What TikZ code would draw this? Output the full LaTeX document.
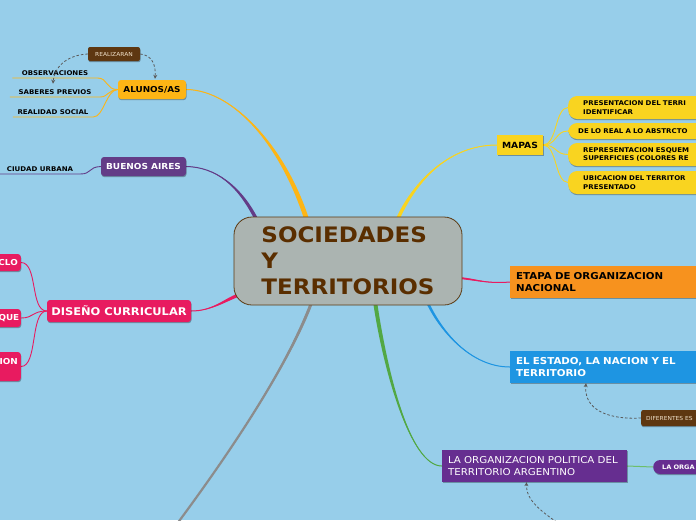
\documentclass[tikz,border=0pt]{standalone}
\usepackage{fontspec}
\setmainfont{DejaVu Sans}[FakeStretch=1.08]
\usetikzlibrary{calc,shadows,arrows.meta}
\pgfdeclarelayer{back}
\pgfdeclarelayer{links}
\pgfsetlayers{back,links,main}
\definecolor{bgblue}{HTML}{97CEEA}
\definecolor{corange}{HTML}{FDB515}
\definecolor{cbrown}{HTML}{5E3711}
\definecolor{cpurple}{HTML}{633C87}
\definecolor{cpink}{HTML}{E81B60}
\definecolor{cyellow}{HTML}{F9D420}
\definecolor{corangeb}{HTML}{F7921E}
\definecolor{cblue}{HTML}{1E95E2}
\definecolor{cviolet}{HTML}{662E90}
\definecolor{cgreen}{HTML}{52A844}
\definecolor{clgreen}{HTML}{6DBE6A}
\definecolor{cgray}{HTML}{8C8C8C}
\definecolor{cfill}{HTML}{ABB4B1}
\definecolor{cbord}{HTML}{5C3A12}
\definecolor{ctext}{HTML}{5A2E00}
\definecolor{clight}{HTML}{F2E3CC}
\definecolor{cdash}{HTML}{5A5A5A}
\newcommand\mmtaper[7][1]{%
  \draw[#2,line width=#1] (#3) .. controls (#4) and (#5) .. (#6);
  \fill[#2] (#3) .. controls (#4) and ($(#5)+(#7)$) .. ($(#6)+(#7)$) -- ($(#6)-(#7)$) .. controls ($(#5)-(#7)$) and (#4) .. (#3);
}
\begin{document}
\begin{tikzpicture}[x=1pt,y=-1pt,
  shade/.style={drop shadow={shadow xshift=0.5pt,shadow yshift=-1.2pt,opacity=0.3,fill=black}},
  cen/.style={draw=cbord,fill=cfill,line width=0.8,rounded corners=18,minimum width=228,minimum height=88,text=ctext,align=left,font=\fontsize{21.3}{26}\selectfont\bfseries},
  box/.style={rounded corners=3,inner sep=2,shade},
  lbl/.style={anchor=south,inner xsep=0,inner ysep=2,font=\fontsize{6.5}{8}\selectfont\bfseries},
  pill/.style={anchor=west,fill=cyellow,rounded corners=9,text width=200,align=left,font=\fontsize{6.5}{8.6}\selectfont\bfseries,shade},
  dasharrow/.style={draw=cdash,line width=0.8,dash pattern=on 2.5pt off 2pt,-{Stealth[length=4,width=4]}},
  sm/.style={font=\fontsize{5.5}{7}\selectfont},
  pinkside/.style={box,fill=cpink,text=white,anchor=east,text width=40,align=right,inner xsep=3,font=\fontsize{8.2}{10}\selectfont\bfseries}
]
\useasboundingbox (0,0) rectangle (696,520);
\clip (0,0) rectangle (696,520);
\begin{pgfonlayer}{back}
\fill[bgblue] (0,0) rectangle (696,520);
\end{pgfonlayer}

% central node
\node[cen] (c) at (348,261) {SOCIEDADES\\Y\\TERRITORIOS};

% left top
\node[box,fill=corange,minimum width=68,minimum height=19,font=\fontsize{8.2}{10}\selectfont\bfseries] (alu) at (152,89.5) {ALUNOS/AS};
\node[box,rounded corners=2,fill=cbrown,text=clight,minimum width=52,minimum height=14,sm] (realiz) at (114,54) {REALIZARAN};
\node[lbl,minimum width=85] (obs) at (55,78) {OBSERVACIONES};
\node[lbl,minimum width=90] (sab) at (55,97) {SABERES PREVIOS};
\node[lbl,minimum width=80] (real) at (53,117) {REALIDAD SOCIAL};

\node[box,fill=cpurple,text=white,minimum width=85,minimum height=19,font=\fontsize{8.3}{10}\selectfont\bfseries] (ba) at (143.5,166.5) {BUENOS AIRES};
\node[lbl,minimum width=80] (ciu) at (40,174) {CIUDAD URBANA};

\node[box,fill=cpink,text=white,minimum width=144,minimum height=22,font=\fontsize{10.6}{13}\selectfont\bfseries] (dis) at (119,311) {DISEÑO CURRICULAR};
\node[pinkside,minimum height=17] (pa) at (21,262.5) {CLO};
\node[pinkside,minimum height=18,inner xsep=1.5] (pb) at (21,318) {QUE};
\node[pinkside,minimum height=29] (pc) at (21,366.5) {ION\\\mbox{}};

% right top
\node[fill=cyellow,minimum width=46,minimum height=20,inner sep=2,shade,font=\fontsize{8.5}{10}\selectfont\bfseries] (map) at (520,145) {MAPAS};
\node[pill,minimum height=23,inner xsep=15] (m1) at (568,107.5) {PRESENTACION DEL TERRI\\IDENTIFICAR};
\node[pill,minimum height=16,inner xsep=10] (m2) at (568,131) {DE LO REAL A LO ABSTRCTO};
\node[pill,minimum height=23,inner xsep=15] (m3) at (568,154.5) {REPRESENTACION ESQUEM\\SUPERFICIES (COLORES RE};
\node[pill,minimum height=23,inner xsep=15] (m4) at (568,182.5) {UBICACION DEL TERRITOR\\PRESENTADO};

% right middle
\node[anchor=west,fill=corangeb,text width=200,inner xsep=6,minimum height=32,align=left,shade,font=\fontsize{9.5}{12}\selectfont\bfseries] (eta) at (510,282) {ETAPA DE ORGANIZACION\\NACIONAL};
\node[anchor=west,fill=cblue,text=white,text width=174,inner xsep=6,minimum height=32,align=left,shade,font=\fontsize{9.5}{12}\selectfont\bfseries] (est) at (510,367) {EL ESTADO, LA NACION Y EL\\TERRITORIO};
\node[anchor=west,box,rounded corners=2,fill=cbrown,text=clight,text width=80,inner xsep=5,minimum height=16,align=left,sm] (dif) at (641,418) {DIFERENTES ES};

% bottom right
\node[fill=cviolet,text=white,text width=173,inner xsep=6,minimum height=32,align=left,shade,font=\fontsize{9.5}{12}\selectfont] (org) at (534.5,466) {LA ORGANIZACION POLITICA DEL\\TERRITORIO ARGENTINO};
\node[anchor=west,fill=cviolet,text=white,rounded corners=7,text width=60,inner xsep=9,minimum height=14,align=left,shade,font=\fontsize{6.1}{8}\selectfont\bfseries] (lo) at (653,467) {LA ORGA};

\coordinate (offg) at (168,536);
\coordinate (offd) at (572,532);

% end points on the central node
\coordinate (eA) at ($(c.north)+(-41,4)$);
\coordinate (eB) at ($(c.north)+(-90,6)$);
\coordinate (eM) at ($(c.north)+(49,4)$);
\coordinate (eE) at ($(c.east)+(-4,17)$);
\coordinate (eD) at ($(c.west)+(5,34)$);
\coordinate (eS) at ($(c.south)+(79,-4)$);
\coordinate (eG) at ($(c.south)+(27,-4)$);
\coordinate (eY) at ($(c.south)+(-36,-4)$);

\begin{pgfonlayer}{links}
\mmtaper{corange}{alu.east}{235,90}{285,150}{eA}{2.5,0}
\mmtaper{cpurple}{ba.east}{215,167}{240,185}{eB}{2,0}
\mmtaper{cyellow}{map.west}{450,145}{415,180}{eM}{2,0}
\mmtaper{cpink}{eta.west}{485,284}{475,279}{eE}{0,1}
\mmtaper{cpink}{dis.east}{212,311}{225,300}{eD}{0.7,1.5}
\mmtaper{cblue}{est.west}{470,367}{440,330}{eS}{1.5,0}
\mmtaper{cgreen}{org.west}{410,466}{385,370}{eG}{2,0}
\mmtaper[2.2]{cgray}{offg}{240,440}{290,360}{eY}{1.6,0}
% small links
\draw[corange,line width=0.9] (alu.west) .. controls (106,90) and (108,78) .. (obs.south east) -- (obs.south west);
\draw[corange,line width=0.9] (alu.west) .. controls (108,90) and (108,97) .. (sab.south east) -- (sab.south west);
\draw[corange,line width=0.9] (alu.west) .. controls (106,90) and (104,117) .. (real.south east) -- (real.south west);
\draw[cpurple,line width=0.9] (ba.west) .. controls (88,167) and (92,174) .. (ciu.south east) -- (ciu.south west);
\draw[cpink,line width=0.9] (dis.west) .. controls (30,311) and (38,262.5) .. (pa.east);
\draw[cpink,line width=0.9] (dis.west) .. controls (32,311) and (34,318) .. (pb.east);
\draw[cpink,line width=0.9] (dis.west) .. controls (30,311) and (38,366.5) .. (pc.east);
\foreach \m in {m1,m2,m3,m4}
  \draw[cyellow,line width=0.9] (map.east) .. controls (557,145) and (555,0|-\m.west) .. (\m.west);
\draw[clgreen,line width=1] (org.east) -- (lo.west);
\end{pgfonlayer}

% dashed arrows
\draw[dasharrow] (realiz.west) .. controls (66,55) and (54,68) .. ($(sab.north)+(-2,-4)$);
\draw[dasharrow] (realiz.east) .. controls (152,55) and (156,65) .. ($(alu.north)+(3,-1)$);
\draw[dasharrow] (dif.west) .. controls (600,420) and (584,405) .. ($(est.south west)+(76,0)$);
\draw[dasharrow] (offd) .. controls (540,512) and (526,500) .. ($(org.south)+(-8,0)$);
\end{tikzpicture}
\end{document}
